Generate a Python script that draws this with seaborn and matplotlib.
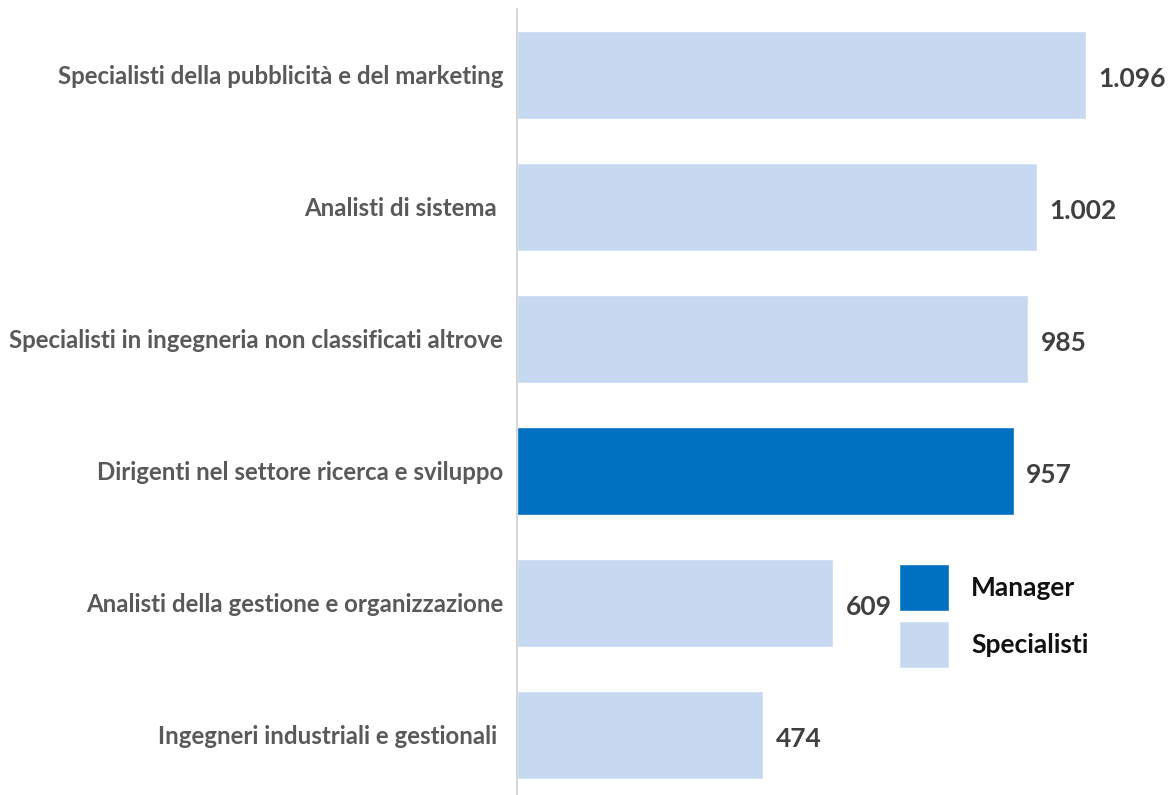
import pandas as pd
import matplotlib.pyplot as plt
import seaborn as sns
from matplotlib.patches import Patch

# dati
professioni = [
    "Specialisti della pubblicità e del marketing",
    "Analisti di sistema ",
    "Specialisti in ingegneria non classificati altrove",
    "Dirigenti nel settore ricerca e sviluppo",
    "Analisti della gestione e organizzazione",
    "Ingegneri industriali e gestionali ",
]
valori = [1096, 1002, 985, 957, 609, 474]
etichette = ["1.096", "1.002", "985", "957", "609", "474"]
gruppo = ["Specialisti", "Specialisti", "Specialisti", "Manager", "Specialisti", "Specialisti"]

colori = {"Manager": "#0070C0", "Specialisti": "#C6D9F0"}


def disegna():
    df = pd.DataFrame({"professione": professioni, "valore": valori, "gruppo": gruppo})

    sns.set_style("white")
    plt.rcParams["font.family"] = ["Lato", "DejaVu Sans"]

    fig = plt.figure(figsize=(11.68, 7.95), dpi=100)
    ax = fig.add_axes([517 / 1168, -6 / 795, 651 / 1168, 792 / 795])

    sns.barplot(df, y="professione", x="valore", hue="gruppo", palette=colori,
                dodge=False, width=0.66, legend=False, ax=ax, saturation=1)

    ax.set_xlim(0, 1254)
    ax.set_ylim(5.5, -0.5)
    ax.set_xlabel("")
    ax.set_ylabel("")
    ax.set_xticks([])
    ax.tick_params(axis="y", length=0, pad=10)
    for lab in ax.get_yticklabels():
        lab.set_fontsize(17.3)
        lab.set_fontweight("bold")
        lab.set_color("#595959")

    for s in ["top", "right", "bottom"]:
        ax.spines[s].set_visible(False)
    ax.spines["left"].set_color("#D0D0D0")
    ax.spines["left"].set_linewidth(1.2)

    for i, (v, t) in enumerate(zip(valori, etichette)):
        ax.text(v + 24, i + 0.03, t, va="center", ha="left", fontsize=19,
                fontweight="bold", color="#404040")

    handles = [Patch(facecolor=colori["Manager"]), Patch(facecolor=colori["Specialisti"])]
    leg = ax.legend(handles, ["Manager", "Specialisti"], loc="upper left",
                    bbox_to_anchor=(0.550, 0.329), frameon=False,
                    prop={"size": 19, "weight": "bold"},
                    handlelength=1.9, handleheight=2.35, handletextpad=0.85,
                    labelspacing=0.38)
    for t in leg.get_texts():
        t.set_color("#111111")

    fig.savefig("out.png", dpi=100)


def main():
    disegna()


if __name__ == "__main__":
    main()
